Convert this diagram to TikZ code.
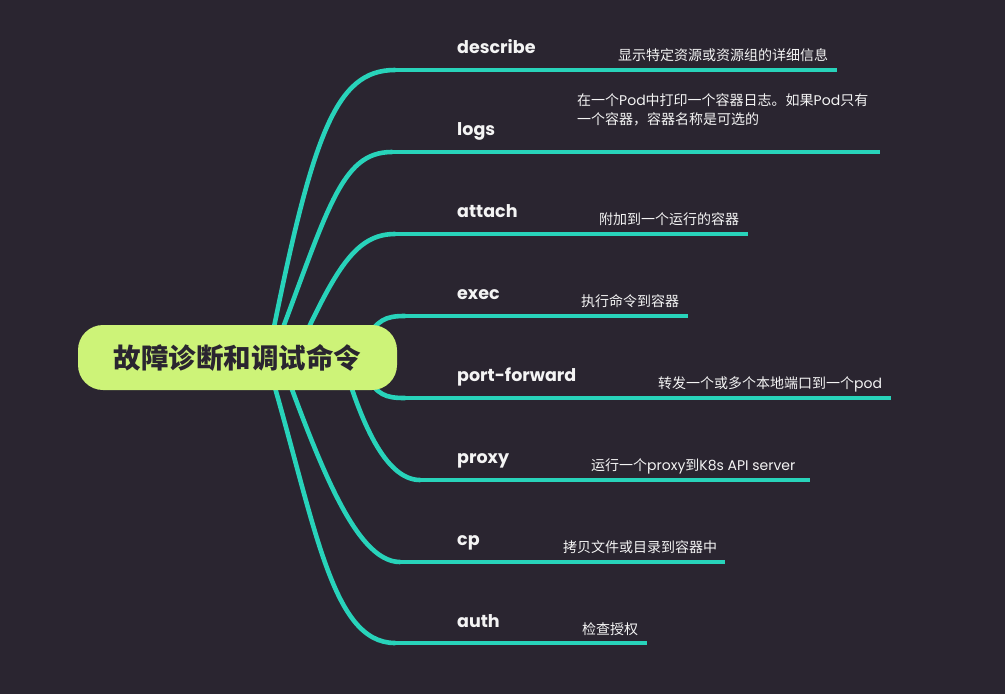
\documentclass[tikz,border=0pt]{standalone}
\usepackage{fontspec}
\setmainfont{Noto Sans CJK SC}
\newfontfamily\pop{Poppins}
\definecolor{bg}{HTML}{2A2530}
\definecolor{brteal}{HTML}{28D3BA}
\definecolor{rootlime}{HTML}{CDF378}
\definecolor{txt}{HTML}{F4F4F4}
\tikzset{
  branch/.style={draw=brteal, line width=4.6pt, line cap=round},
  stem/.style={draw=brteal, line width=3.3pt},
  cmd/.style={anchor=base west, text=txt, inner sep=0pt, font=\pop\bfseries\fontsize{17.5}{20}\selectfont},
  desc/.style={anchor=base west, text=txt, inner sep=0pt, align=left, font=\fontsize{14}{18.5}\selectfont},
  rootbox/.style={fill=rootlime, rounded corners=25pt, minimum width=319pt, minimum height=65pt, inner sep=0pt, text=bg, font=\bfseries\fontsize{27.5}{30}\selectfont}
}
\begin{document}
\begin{tikzpicture}[x=1pt,y=-1pt]
\useasboundingbox (0,0) rectangle (1005,694);
\fill[bg] (0,0) rectangle (1005,694);
% start points (hidden under the root node)
\coordinate (s1) at (268,357); \coordinate (h1) at (395,70);  \coordinate (e1) at (837,70);
\coordinate (s2) at (272,357); \coordinate (h2) at (392,152); \coordinate (e2) at (880,152);
\coordinate (s3) at (295,357); \coordinate (h3) at (395,234); \coordinate (e3) at (748,234);
\coordinate (s4) at (365,340); \coordinate (h4) at (405,316); \coordinate (e4) at (688,316);
\coordinate (s5) at (365,375); \coordinate (h5) at (405,398); \coordinate (e5) at (891,398);
\coordinate (s6) at (342,357); \coordinate (h6) at (420,480); \coordinate (e6) at (810,480);
\coordinate (s7) at (280,357); \coordinate (h7) at (400,562); \coordinate (e7) at (725,562);
\coordinate (s8) at (266,357); \coordinate (h8) at (395,643); \coordinate (e8) at (647,643);
% curves
\draw[branch] (s1) .. controls +(44,-222) and +(-60,0) .. (h1);
\draw[branch] (s2) .. controls +(56,-147) and +(-52,0) .. (h2);
\draw[branch] (s3) .. controls +(40,-87) and +(-40,0) .. (h3);
\draw[branch] (s4) .. controls +(13,-20) and +(-20,0) .. (h4);
\draw[branch] (s5) .. controls +(13,20) and +(-20,0) .. (h5);
\draw[branch] (s6) .. controls +(18,63) and +(-35,0) .. (h6);
\draw[branch] (s7) .. controls +(38,103) and +(-45,0) .. (h7);
\draw[branch] (s8) .. controls +(49,163) and +(-65,0) .. (h8);
% horizontal stems
\draw[stem] (h1) -- (e1);
\draw[stem] (h2) -- (e2);
\draw[stem] (h3) -- (e3);
\draw[stem] (h4) -- (e4);
\draw[stem] (h5) -- (e5);
\draw[stem] (h6) -- (e6);
\draw[stem] (h7) -- (e7);
\draw[stem] (h8) -- (e8);
% root
\node[rootbox] (root) at (237.5,357.5) {故障诊断和调试命令};
% command labels
\node[cmd] (c1) at (457,53)  {describe};
\node[cmd] (c2) at (457,135) {logs};
\node[cmd] (c3) at (457,217) {attach};
\node[cmd] (c4) at (457,299) {exec};
\node[cmd] (c5) at (457,381) {port-forward};
\node[cmd] (c6) at (457,463) {proxy};
\node[cmd] (c7) at (457,545) {cp};
\node[cmd] (c8) at (457,627) {auth};
% descriptions
\node[desc] (d1) at (618,60)  {显示特定资源或资源组的详细信息};
\node[desc] (d2) at (577,124) {在一个{\pop Pod}中打印一个容器日志。如果{\pop Pod}只有\\一个容器，容器名称是可选的};
\node[desc] (d3) at (599,224) {附加到一个运行的容器};
\node[desc] (d4) at (581,306) {执行命令到容器};
\node[desc] (d5) at (658,388) {转发一个或多个本地端口到一个{\pop pod}};
\node[desc] (d6) at (591,470) {运行一个{\pop proxy}到{\pop K8s API server}};
\node[desc] (d7) at (563,552) {拷贝文件或目录到容器中};
\node[desc] (d8) at (582,634) {检查授权};
\end{tikzpicture}
\end{document}
